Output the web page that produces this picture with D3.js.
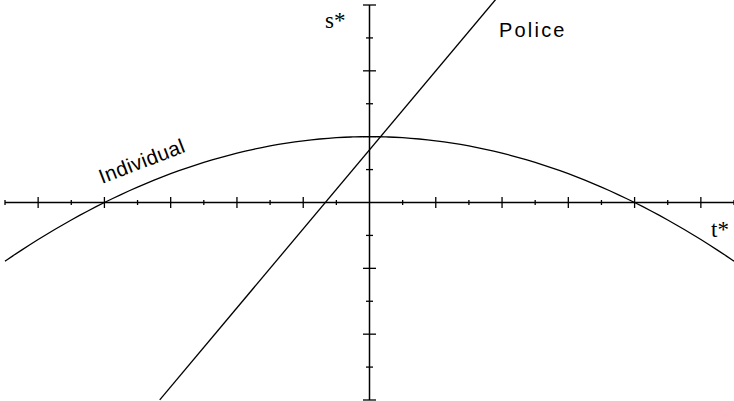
<!DOCTYPE html>
<html><head><meta charset="utf-8">
<script src="https://cdn.jsdelivr.net/npm/d3@7"></script>
<style>body{margin:0;background:#fff}svg{display:block}</style>
</head><body>
<svg id="c" width="734" height="401"></svg>
<script>
// Data
const xDomain = [-11, 11];
const yDomain = [-6, 6];
const xTicks = d3.range(-11, 12, 1);   // major at even values
const yTicks = d3.range(-6, 7, 1);
// Individual: s = 2 - t^2/32 (peak 2, roots at ±8)
const individualT = d3.range(-11, 11.001, 0.25);
const individualPeak = 2, individualRoot = 8;
// Police: s = 1.6 + 1.2 t
const policeIntercept = 1.6, policeSlope = 1.2;
const policeT = [-6.33, 3.8];
const labels = {x: "t*", y: "s*", police: "Police", individual: "Individual"};

const svg = d3.select("#c");
const x = d3.scaleLinear().domain(xDomain).range([5, 734]);
const y = d3.scaleLinear().domain(yDomain).range([400, 5]);

const indiv = individualT.map(t => [t, individualPeak * (1 - (t*t)/(individualRoot*individualRoot))]);
const police = policeT.map(t => [t, policeIntercept + policeSlope * t]);

const line = d3.line().x(d => x(d[0])).y(d => y(d[1]));

// axes
const g = svg.append("g").attr("stroke", "#000");
g.append("line").attr("x1", x(-11)).attr("x2", x(11)).attr("y1", y(0)).attr("y2", y(0)).attr("stroke-width", 1.5);
g.append("line").attr("x1", x(0)).attr("x2", x(0)).attr("y1", y(-6)).attr("y2", y(6)).attr("stroke-width", 1.5);
xTicks.filter(v => v !== 0).forEach(v => {
  const h = (v % 2 === 0) ? 5.5 : 2.5;
  g.append("line").attr("x1", x(v)).attr("x2", x(v)).attr("y1", y(0) - h).attr("y2", y(0) + h).attr("stroke-width", 1.3);
});
yTicks.filter(v => v !== 0).forEach(v => {
  const h = (v % 2 === 0) ? 6.5 : 3.5;
  g.append("line").attr("y1", y(v)).attr("y2", y(v)).attr("x1", x(0) - h).attr("x2", x(0) + h).attr("stroke-width", 1.3);
});

svg.append("path").datum(indiv).attr("d", line.curve(d3.curveBasis)).attr("fill", "none").attr("stroke", "#000").attr("stroke-width", 1.3);
svg.append("path").datum(police).attr("d", d3.line().x(d => x(d[0])).y(d => y(d[1]))).attr("fill", "none").attr("stroke", "#000").attr("stroke-width", 1.3);

// labels
const serif = "'Times New Roman', 'Liberation Serif', 'DejaVu Serif', 'Noto Serif', Times, serif";
const sans = "'Liberation Sans', Arial, sans-serif";
svg.append("text").attr("x", 325).attr("y", 28)
  .attr("font-family", serif).attr("font-size", 23).text(labels.y);
svg.append("text").attr("x", 711).attr("y", 237)
  .attr("font-family", serif).attr("font-size", 23).text(labels.x);
svg.append("text").attr("x", 499).attr("y", 37)
  .attr("font-family", sans).attr("font-size", 20).attr("letter-spacing", 2.2).text(labels.police);
svg.append("text").attr("transform", "translate(102,184) rotate(-21)")
  .attr("font-family", sans).attr("font-size", 20.5).attr("letter-spacing", 0.4).text(labels.individual);
</script>
</body></html>
